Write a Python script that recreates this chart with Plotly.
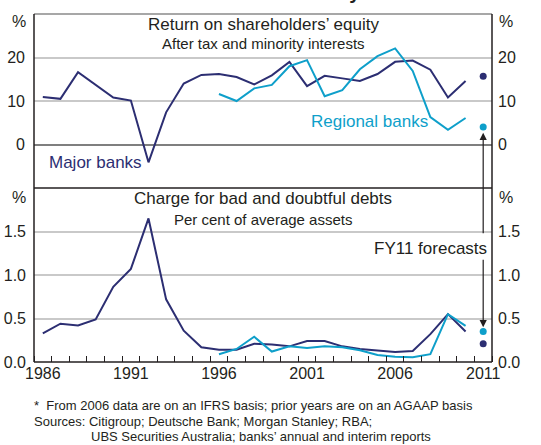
import plotly.graph_objects as go

# ---- data ----
years_major = list(range(1986, 2011))
years_regional = list(range(1996, 2011))
roe_major = [10.9, 10.5, 16.6, 13.7, 10.8, 10.1, -4.1, 7.4, 14.0, 16.0, 16.2, 15.5, 13.8,
             15.9, 19.0, 13.4, 15.8, 15.2, 14.6, 16.2, 19.0, 19.3, 17.2, 10.8, 14.6]
roe_regional = [11.6, 10.0, 12.9, 13.7, 18.0, 19.4, 11.1, 12.5, 17.3, 20.3, 22.1, 16.9,
                6.3, 3.4, 6.1]
bdd_major = [0.33, 0.44, 0.42, 0.49, 0.865, 1.07, 1.65, 0.72, 0.36, 0.17, 0.14, 0.14, 0.21,
             0.20, 0.18, 0.24, 0.24, 0.18, 0.15, 0.135, 0.115, 0.127, 0.32, 0.55, 0.35]
bdd_regional = [0.09, 0.15, 0.29, 0.12, 0.18, 0.16, 0.18, 0.17, 0.135, 0.08, 0.06, 0.055,
                0.09, 0.55, 0.415]
forecast_year = [2011]
roe_forecast_major = [15.7]
roe_forecast_regional = [4.0]
bdd_forecast_major = [0.21]
bdd_forecast_regional = [0.35]
roe_ticks = [0, 10, 20]
bdd_ticks = [0.0, 0.5, 1.0, 1.5]
bdd_ticktext = ["0.0", "0.5", "1.0", "1.5"]

NAVY = "#2c2e72"
CYAN = "#0e9fca"
TXT = "#231f20"
FONT = "Liberation Sans, Arial, sans-serif"

fig = go.Figure()
lw = 2
fig.add_trace(go.Scatter(x=years_major, y=roe_major, mode="lines",
                         line=dict(color=NAVY, width=lw), xaxis="x", yaxis="y"))
fig.add_trace(go.Scatter(x=years_regional, y=roe_regional, mode="lines",
                         line=dict(color=CYAN, width=lw), xaxis="x", yaxis="y"))
fig.add_trace(go.Scatter(x=forecast_year, y=roe_forecast_major, mode="markers",
                         marker=dict(color=NAVY, size=7), xaxis="x", yaxis="y"))
fig.add_trace(go.Scatter(x=forecast_year, y=roe_forecast_regional, mode="markers",
                         marker=dict(color=CYAN, size=7), xaxis="x", yaxis="y"))
fig.add_trace(go.Scatter(x=years_major, y=bdd_major, mode="lines",
                         line=dict(color=NAVY, width=lw), xaxis="x2", yaxis="y2"))
fig.add_trace(go.Scatter(x=years_regional, y=bdd_regional, mode="lines",
                         line=dict(color=CYAN, width=lw), xaxis="x2", yaxis="y2"))
fig.add_trace(go.Scatter(x=forecast_year, y=bdd_forecast_major, mode="markers",
                         marker=dict(color=NAVY, size=7), xaxis="x2", yaxis="y2"))
fig.add_trace(go.Scatter(x=forecast_year, y=bdd_forecast_regional, mode="markers",
                         marker=dict(color=CYAN, size=7), xaxis="x2", yaxis="y2"))
# dummy traces to activate right-side axes
fig.add_trace(go.Scatter(x=[None], y=[None], xaxis="x", yaxis="y3", hoverinfo="skip"))
fig.add_trace(go.Scatter(x=[None], y=[None], xaxis="x2", yaxis="y4", hoverinfo="skip"))

tickfont = dict(family=FONT, size=16, color=TXT)
xr = [1985.5, 2011.5]
fig.update_layout(
    width=541, height=445,
    margin=dict(l=34, r=49, t=14, b=83),
    paper_bgcolor="white", plot_bgcolor="white",
    showlegend=False,
    font=dict(family=FONT, color=TXT),
    xaxis=dict(domain=[0, 1], range=xr, anchor="y", showticklabels=False,
               showgrid=False, zeroline=False, ticks="", automargin=False),
    xaxis2=dict(domain=[0, 1], range=xr, anchor="y2", tickmode="linear", tick0=1986,
                dtick=5, ticks="", showgrid=False, zeroline=False, tickfont=tickfont,
                automargin=False,
                minor=dict(tickmode="linear", tick0=1985.5, dtick=1, ticks="inside",
                           ticklen=6, tickcolor=TXT, tickwidth=1, showgrid=False)),
    yaxis=dict(domain=[0.5, 1], range=[-10, 30], tickvals=roe_ticks, ticks="",
               showgrid=True, gridcolor="#c9c9c9", gridwidth=1.5,
               zeroline=True, zerolinecolor="#7f7f7f", zerolinewidth=2,
               tickfont=tickfont, anchor="x", ticklabelstandoff=8, automargin=False),
    yaxis3=dict(domain=[0.5, 1], range=[-10, 30], tickvals=roe_ticks, ticks="",
                overlaying="y", side="right", showgrid=False, zeroline=False,
                tickfont=tickfont, anchor="x", ticklabelstandoff=5, automargin=False),
    yaxis2=dict(domain=[0, 0.5], range=[0, 2], tickvals=bdd_ticks, ticktext=bdd_ticktext,
                ticks="", showgrid=True, gridcolor="#c9c9c9", gridwidth=1.5,
                zeroline=False, tickfont=tickfont, anchor="x2", ticklabelstandoff=7,
                automargin=False),
    yaxis4=dict(domain=[0, 0.5], range=[0, 2], tickvals=bdd_ticks, ticktext=bdd_ticktext,
                ticks="", overlaying="y2", side="right", showgrid=False, zeroline=False,
                tickfont=tickfont, anchor="x2", ticklabelstandoff=5, automargin=False),
)

# frame lines
frame = [
    dict(x0=0, x1=1, y0=1, y1=1, color="#8a8a8a"),
    dict(x0=0, x1=1, y0=0.5, y1=0.5, color=TXT),
    dict(x0=0, x1=1, y0=0, y1=0, color=TXT),
    dict(x0=0, x1=0, y0=0, y1=1, color=TXT),
    dict(x0=1, x1=1, y0=0, y1=1, color=TXT),
]
for f in frame:
    fig.add_shape(type="line", xref="paper", yref="paper", x0=f["x0"], x1=f["x1"],
                  y0=f["y0"], y1=f["y1"], line=dict(color=f["color"], width=1.5),
                  layer="above")

def ann(text, x, y, size, xanchor="center", color=TXT, bold=False):
    fig.add_annotation(text=f"<b>{text}</b>" if bold else text, x=x, y=y,
                       xref="paper", yref="paper", xanchor=xanchor, yanchor="middle",
                       showarrow=False, font=dict(family=FONT, size=size, color=color))

def px(xp):
    return (xp - 34) / 458

def py(yp):
    return (362 - yp) / 348

ann("Banks' Profitability", px(270), py(-8), 20, bold=True)
ann("Return on shareholders’ equity", 0.5, py(24), 17)
ann("After tax and minority interests", 0.5, py(43), 15)
ann("Charge for bad and doubtful debts", 0.5, py(199), 17)
ann("Per cent of average assets", 0.5, py(219), 15)
ann("%", px(19), py(22), 16)
ann("%", px(506), py(22), 16)
ann("%", px(19), py(197), 16)
ann("%", px(506), py(197), 16)
ann("Major banks", px(47), py(163), 17, xanchor="left", color=NAVY)
ann("Regional banks", px(309), py(122), 17, xanchor="left", color=CYAN)
ann("FY11 forecasts", px(489), py(248), 17, xanchor="right")
ann("*\u00a0\u00a0From 2006 data are on an IFRS basis; prior years are on an AGAAP basis",
    px(32), py(405), 13, xanchor="left")
ann("Sources: Citigroup; Deutsche Bank; Morgan Stanley; RBA;", px(32), py(421), 13,
    xanchor="left")
ann("UBS Securities Australia; banks’ annual and interim reports", px(89), py(436), 13,
    xanchor="left")

# arrows to forecasts
fig.add_annotation(x=2011, y=2.7, xref="x", yref="y", text="", showarrow=True,
                   ax=0, ay=102, axref="pixel", ayref="pixel", arrowhead=2,
                   arrowsize=1.2, arrowwidth=1.2, arrowcolor=TXT)
fig.add_annotation(x=2011, y=0.40, xref="x2", yref="y2", text="", showarrow=True,
                   ax=0, ay=-69, axref="pixel", ayref="pixel", arrowhead=2,
                   arrowsize=1.2, arrowwidth=1.2, arrowcolor=TXT)

fig.write_html("out.html", config={"displayModeBar": False},
               post_script="document.body.style.margin='0';")
